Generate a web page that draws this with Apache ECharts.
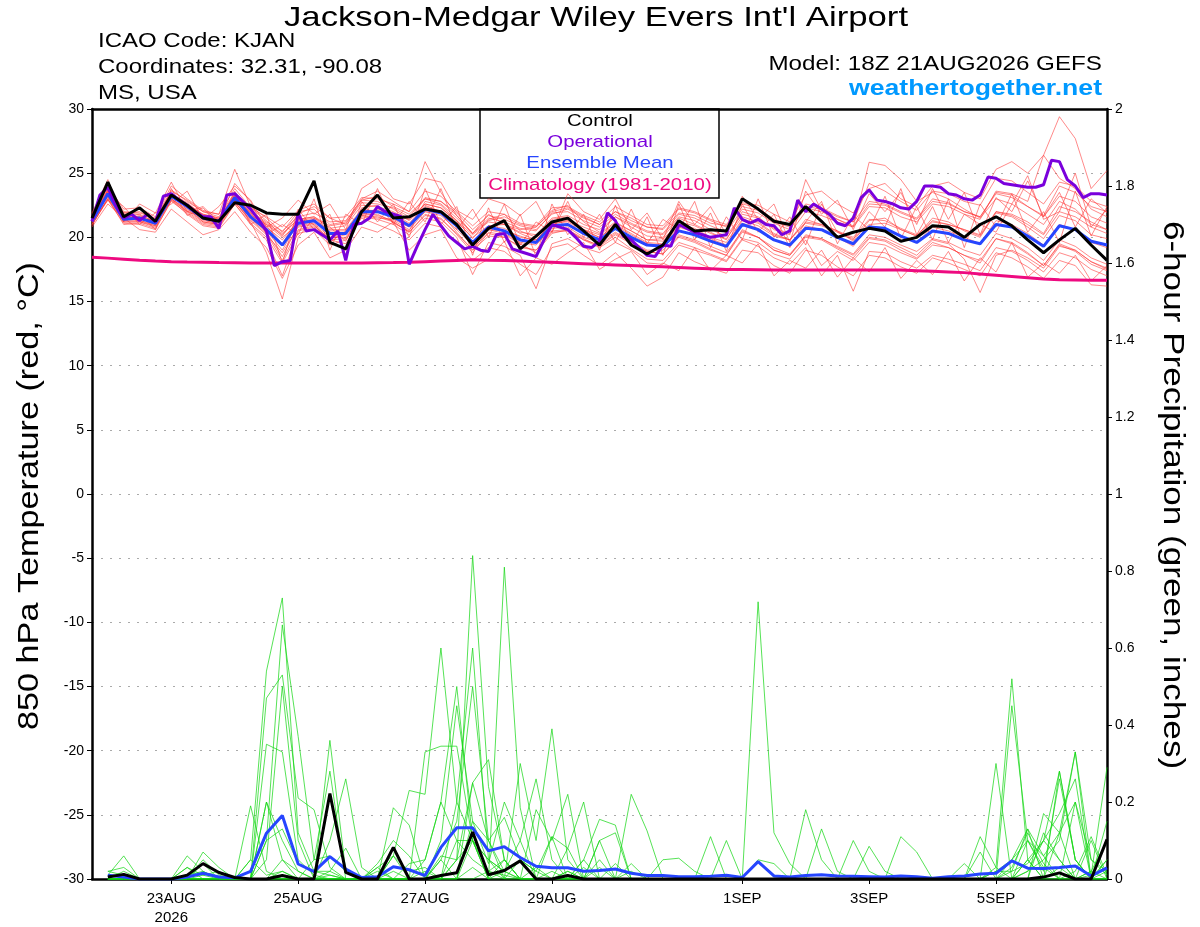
<!DOCTYPE html>
<html>
<head>
  <meta charset="UTF-8">
  <title>KJAN GEFS meteogram</title>
  <script src="https://cdn.jsdelivr.net/npm/echarts@6/dist/echarts.min.js"></script>
  <style>
    html, body { margin: 0; padding: 0; background: #fff; }
    #main { width: 1200px; height: 927px; }
  </style>
</head>
<body>
  <div id="main"></div>
  <script>
    // tick labels on the time axis (forecast hour from 18Z 21AUG2026)
    var tickHours = [30, 78, 126, 174, 246, 294, 342];
    var tickLabels = ['23AUG\n2026', '25AUG', '27AUG', '29AUG', '1SEP', '3SEP', '5SEP'];

    // 850 hPa temperature, 6-hourly (65 values, hour 0..384)
    var tempControl = [
      21.5, 24.3, 21.6, 22.3, 21.25, 23.3, 22.5, 21.5, 21.25, 22.7, 22.5, 21.9, 21.8,
      21.8, 24.4, 19.6, 19.1, 22.0, 23.3, 21.5, 21.6, 22.2, 22.0, 21.0, 19.4, 20.7,
      21.3, 19.1, 20.1, 21.2, 21.5, 20.5, 19.4, 21.0, 19.4, 18.7, 19.4, 21.3, 20.5,
      20.6, 20.5, 23.0, 22.2, 21.25, 21.0, 22.4, 21.25, 20.0, 20.4, 20.7, 20.5, 19.7,
      20.0, 20.9, 20.8, 20.0, 21.0, 21.6, 20.9, 19.8, 18.8, 19.8, 20.7, 19.4, 18.2
    ];
    var tempMean = [
      21.25, 23.4, 21.4, 21.5, 21.1, 23.2, 22.4, 21.5, 21.25, 23.1, 21.6, 20.6, 19.4,
      21.1, 21.3, 20.3, 20.3, 22.0, 22.0, 21.6, 20.9, 22.2, 21.9, 20.9, 19.6, 20.8,
      20.5, 19.8, 19.6, 20.9, 21.0, 20.3, 19.8, 20.7, 20.0, 19.4, 19.3, 20.5, 20.2,
      19.7, 19.3, 21.0, 20.6, 19.8, 19.4, 20.7, 20.6, 20.0, 19.5, 20.8, 20.7, 20.1,
      19.6, 20.5, 20.3, 19.8, 19.5, 21.0, 20.8, 20.1, 19.3, 20.9, 20.6, 19.7, 19.4
    ];
    var tempClimo = [
      18.45, 18.38, 18.3, 18.22, 18.15, 18.1, 18.07, 18.05, 18.03, 18.02, 18.0, 18.0, 18.0,
      18.0, 18.0, 18.0, 18.0, 18.0, 18.02, 18.03, 18.05, 18.1, 18.15, 18.2, 18.25, 18.22,
      18.2, 18.15, 18.1, 18.05, 18.0, 17.95, 17.9, 17.85, 17.8, 17.75, 17.7, 17.65, 17.6,
      17.55, 17.5, 17.5, 17.48, 17.45, 17.45, 17.45, 17.45, 17.45, 17.45, 17.45, 17.45, 17.45,
      17.4, 17.35, 17.3, 17.25, 17.15, 17.05, 16.95, 16.85, 16.75, 16.7, 16.68, 16.66, 16.65
    ];
    // operational run is 3-hourly (129 values, hour 0..384)
    var tempOper = [
      21.25, 23.3, 23.9, 22.5, 21.5, 21.8, 21.3, 21.8, 21.2, 23.2, 23.4, 22.9, 22.5, 22.0, 21.6, 21.6,
      20.7, 23.3, 23.4, 22.8, 22.2, 21.4, 20.5, 17.8, 18.1, 18.2, 21.9, 20.5, 20.6, 20.2, 19.8, 20.5,
      18.2, 21.0, 21.1, 21.5, 22.4, 22.0, 21.8, 21.6, 17.9, 19.3, 20.6, 21.8, 20.9, 20.1, 19.6, 19.1,
      19.3, 19.0, 18.9, 20.2, 20.3, 19.1, 18.9, 18.7, 18.5, 19.8, 21.0, 20.8, 20.6, 20.0, 19.3, 19.2,
      19.7, 21.9, 21.3, 20.1, 19.8, 19.2, 18.6, 18.5, 19.4, 19.3, 21.0, 20.7, 20.4, 20.2, 20.0, 20.1,
      20.2, 22.3, 21.4, 21.1, 21.4, 21.0, 20.9, 20.2, 20.5, 22.9, 22.0, 22.6, 22.2, 21.8, 21.1, 20.9,
      21.5, 23.1, 23.7, 22.9, 22.8, 22.6, 22.3, 22.2, 22.8, 24.0, 24.0, 23.9, 23.4, 23.3, 23.0, 22.9,
      23.3, 24.7, 24.6, 24.2, 24.1, 24.0, 23.9, 23.9, 24.1, 26.0, 25.9, 24.5, 24.0, 23.1, 23.4, 23.4,
      23.3
    ];

    // temperature ensemble members (6-hourly)
    var tempMembers = [
      [21.5,23.8,21.9,22.0,21.4,23.6,22.9,22.0,21.6,23.5,22.3,21.3,20.1,
       21.8,22.4,21.5,21.0,22.9,23.2,22.4,21.8,23.0,22.8,21.9,20.6,21.7,
       21.4,20.9,20.6,21.8,22.2,21.5,21.0,22.0,21.3,20.8,20.6,21.9,21.7,
       21.1,20.9,22.7,22.5,21.8,21.2,23.3,23.6,22.6,21.9,23.8,24.2,23.0,
       22.4,24.0,24.3,23.5,23.0,25.3,25.9,25.0,26.4,29.4,27.7,23.8,25.2],
      [21.0,23.0,21.0,21.1,20.7,22.8,21.9,21.0,20.8,22.6,21.0,19.8,17.0,
       20.5,20.8,19.8,19.5,21.6,21.4,21.0,20.2,21.5,21.2,20.0,17.1,19.6,
       19.3,18.6,16.0,19.5,19.9,19.2,18.8,19.6,19.0,18.0,17.9,19.4,19.0,
       18.6,18.1,19.8,19.3,18.4,17.9,19.2,17.0,18.6,15.8,18.9,18.8,18.1,
       17.6,18.6,18.3,17.9,17.4,19.2,18.9,18.2,17.3,18.8,18.4,17.5,17.0],
      [21.6,23.2,21.2,21.2,20.9,23.4,22.3,21.2,21.0,22.8,21.2,18.8,15.2,
       20.0,21.5,20.8,19.7,22.3,22.5,21.1,20.5,22.8,22.5,21.3,19.9,21.4,
       21.8,20.5,20.0,21.4,21.6,20.6,20.2,21.1,20.5,19.8,19.7,21.2,20.9,
       20.3,19.9,21.6,21.2,20.3,19.8,21.4,21.0,20.5,19.7,21.3,21.5,20.6,
       20.1,21.5,21.2,20.5,20.0,22.0,21.7,21.0,20.2,22.0,21.6,20.8,20.3],
      [21.8,24.0,22.2,22.3,21.6,24.0,23.0,22.1,21.8,25.3,22.4,21.5,20.4,
       22.0,22.2,21.0,21.2,23.0,23.6,22.8,22.0,25.9,23.5,21.7,20.3,21.8,
       21.0,20.6,20.8,22.1,22.5,21.2,20.4,21.6,20.8,20.1,20.0,21.5,21.0,
       20.4,19.8,22.0,21.6,20.6,20.2,24.5,22.1,21.4,20.8,25.85,25.6,24.5,
       22.8,23.5,23.0,22.2,21.5,23.0,22.6,21.8,21.0,22.8,22.2,21.0,20.6],
      [21.2,23.5,21.6,21.3,21.0,23.0,22.0,21.6,21.4,23.3,21.8,20.9,19.5,
       21.5,21.0,19.6,20.5,21.8,22.2,21.9,21.1,22.5,22.0,21.0,19.2,20.3,
       20.0,19.2,19.0,20.5,20.6,19.9,19.3,20.2,19.5,18.9,18.7,20.0,19.6,
       19.0,18.6,20.6,20.0,19.0,18.6,20.0,19.8,19.1,18.4,19.9,19.7,19.0,
       18.4,19.6,19.2,18.6,18.0,19.9,19.6,18.8,17.8,19.5,19.0,18.1,17.6],
      [20.9,23.1,21.3,21.6,21.2,23.1,22.5,21.4,21.0,22.9,21.5,20.4,18.5,
       20.9,21.1,20.0,20.0,21.9,21.7,21.3,20.6,22.0,21.9,20.4,19.0,20.6,
       20.5,20.1,19.7,21.2,21.3,20.6,20.0,21.0,20.3,19.6,19.5,20.9,20.6,
       19.9,19.4,21.3,20.9,20.1,19.8,21.1,20.9,20.4,19.9,21.0,21.1,20.6,
       20.1,21.2,21.0,20.6,20.1,21.9,21.6,20.8,19.9,21.7,21.3,20.2,19.9],
      [21.4,23.7,21.8,21.5,21.3,23.4,22.6,21.7,21.4,23.2,21.9,21.0,20.2,
       21.4,21.6,20.7,20.9,22.5,22.4,22.0,21.3,22.6,22.3,21.3,20.2,21.2,
       21.0,20.4,20.2,21.5,21.7,21.0,20.6,21.6,21.0,20.4,20.2,21.6,21.3,
       20.6,20.1,21.8,21.5,20.7,20.3,22.0,21.7,21.2,20.8,22.4,22.3,21.6,
       21.2,22.6,22.4,21.8,21.4,23.6,23.4,22.8,26.4,24.6,23.8,22.2,21.6],
      [21.3,23.3,21.4,21.7,21.0,23.0,22.2,21.3,21.1,22.9,21.5,20.5,19.0,
       21.2,21.4,20.2,20.3,21.7,21.5,21.4,20.8,22.0,21.7,20.6,19.4,20.6,
       20.3,19.6,19.4,20.7,20.8,20.0,19.6,20.4,19.7,19.0,19.0,20.2,19.8,
       19.3,18.8,20.5,20.0,19.0,18.6,20.2,19.9,19.2,18.6,20.0,19.8,19.2,
       18.6,19.8,19.5,18.3,15.7,18.6,19.0,18.4,17.6,19.3,19.0,18.1,17.5],
      [21.1,23.6,21.5,21.4,21.3,23.3,22.4,21.8,21.5,23.0,21.7,21.0,20.0,
       21.0,21.2,20.6,20.6,22.2,22.0,21.8,21.4,22.6,22.3,21.2,20.0,20.9,
       21.0,20.3,19.8,21.0,21.3,20.8,20.3,21.2,20.5,19.8,19.9,21.0,20.7,
       20.0,19.6,21.4,21.1,20.2,19.8,21.2,21.0,20.5,20.0,21.4,21.3,20.7,
       20.2,21.3,21.0,20.6,20.2,22.0,21.8,21.2,20.3,22.4,22.0,21.2,20.6],
      [21.0,22.9,21.1,21.0,20.6,22.9,21.8,20.9,20.7,22.6,21.1,20.0,18.0,
       20.3,20.6,19.4,19.8,21.5,21.0,20.5,19.8,21.1,20.8,19.6,18.2,19.2,
       18.9,17.9,17.1,19.2,19.5,18.6,17.8,18.8,17.6,16.2,16.9,18.8,18.1,
       17.6,17.2,19.0,18.8,17.8,17.2,19.0,18.6,17.7,17.0,18.6,18.4,17.7,
       17.2,18.4,18.0,17.5,17.0,18.8,18.4,17.7,16.8,18.2,17.8,16.3,16.2],
      [21.6,23.9,22.0,21.9,21.5,23.7,22.8,22.0,21.8,23.8,22.3,21.6,20.8,
       22.1,22.6,21.5,21.6,23.1,23.0,22.6,22.0,23.6,23.2,22.0,20.9,22.0,
       21.8,21.1,20.9,22.3,22.4,21.7,21.2,22.4,21.7,21.0,20.9,22.3,22.0,
       21.4,21.0,22.6,22.3,21.4,20.9,22.6,22.3,21.7,21.2,22.8,22.6,22.0,
       21.5,23.0,22.7,22.0,21.6,23.5,23.3,22.4,21.7,24.0,23.5,22.4,22.0],
      [21.2,23.2,21.3,21.3,20.9,23.0,22.1,21.2,21.0,22.8,21.3,20.2,18.8,
       20.8,21.0,19.8,19.9,21.7,21.6,21.2,20.4,21.8,21.4,20.3,19.0,20.1,
       20.0,19.3,19.0,20.4,20.5,19.8,19.4,20.3,19.6,18.9,18.7,20.1,19.7,
       19.1,18.6,20.4,20.0,19.2,18.7,20.1,19.9,19.3,18.7,20.2,20.0,19.4,
       18.9,19.9,19.6,19.0,18.6,20.3,19.9,19.2,18.2,19.8,19.3,18.4,17.9],
      [21.3,23.5,21.6,21.8,21.2,23.3,22.5,21.6,21.3,23.2,21.8,20.8,19.8,
       21.3,21.5,20.5,20.5,22.1,22.1,21.8,21.0,22.4,22.0,20.9,19.6,20.9,
       20.7,20.0,19.8,21.1,21.2,20.5,20.0,20.9,20.2,19.5,19.4,20.8,20.4,
       19.8,19.3,21.1,20.7,19.8,19.3,20.9,20.6,20.0,19.3,20.9,20.7,20.1,
       19.6,20.8,20.5,20.0,19.5,21.3,21.0,20.3,19.4,21.0,20.6,19.6,19.2],
      [21.4,23.6,21.7,21.6,21.1,23.4,22.7,21.7,21.4,23.4,22.0,21.2,20.5,
       21.6,21.9,21.2,21.3,22.9,22.8,22.2,21.4,23.0,22.6,21.5,20.3,21.5,
       21.2,20.7,20.5,21.9,22.0,21.3,20.8,21.8,21.1,20.5,20.3,21.8,21.5,
       20.9,20.4,22.2,21.9,21.1,20.6,22.3,22.0,21.4,20.9,22.6,22.5,21.9,
       21.4,22.8,22.6,22.0,21.6,23.4,23.1,22.4,21.6,23.2,22.8,21.6,21.1],
      [21.0,23.0,21.2,21.2,20.8,22.9,22.0,21.1,20.9,22.7,21.4,20.3,18.2,
       20.6,20.9,19.9,20.2,21.8,21.8,21.2,20.4,21.7,21.5,20.2,18.8,20.4,
       20.2,19.5,18.8,20.3,20.6,19.8,19.2,20.0,19.1,18.3,18.2,19.6,19.2,
       18.7,18.2,19.9,19.6,18.7,18.3,19.8,17.8,18.9,18.2,19.6,19.4,18.8,
       18.3,19.4,19.2,18.6,18.2,19.9,19.5,18.7,17.8,19.4,18.9,17.9,17.4],
      [21.5,23.7,21.6,21.5,21.3,23.4,22.6,21.8,21.5,23.3,21.9,21.1,20.3,
       21.4,21.6,20.9,21.1,22.7,22.6,22.3,21.6,23.1,22.8,21.7,20.3,21.3,
       21.6,21.0,20.8,22.0,22.3,21.6,21.0,22.0,21.5,20.8,20.7,22.2,21.9,
       21.3,20.8,22.4,22.1,21.2,20.8,22.4,22.2,21.6,21.2,24.2,23.6,22.8,
       22.1,23.6,23.4,22.8,22.5,24.6,24.4,23.5,22.6,24.3,24.0,22.8,22.4],
      [21.7,23.4,22.4,21.0,21.9,22.6,23.6,21.4,22.4,24.0,22.9,20.8,21.5,
       22.9,21.8,22.6,20.6,23.8,24.6,23.0,22.6,24.6,24.3,22.1,21.4,23.0,
       22.6,21.7,22.8,20.4,23.4,22.0,21.4,23.0,20.6,21.9,19.8,22.8,21.0,
       22.4,20.2,23.2,21.4,22.6,19.6,23.6,21.8,22.9,20.6,23.4,22.0,23.5,
       21.0,23.8,21.4,23.5,20.2,23.1,22.0,24.4,21.6,23.5,20.8,23.0,21.9],
      [20.8,22.6,21.5,20.6,20.4,22.2,21.2,20.2,20.6,22.0,20.4,19.2,16.8,
       19.4,20.4,18.4,19.0,20.8,20.4,21.2,19.0,20.2,20.6,18.4,17.6,18.3,
       19.7,17.0,18.4,17.9,18.8,19.6,17.5,18.3,18.9,17.1,18.0,17.4,19.2,
       17.4,18.6,18.0,19.5,17.0,18.2,17.6,19.0,16.9,18.4,17.3,19.2,16.8,
       18.2,17.1,18.9,16.6,18.4,17.3,19.6,16.9,18.0,17.2,18.6,16.6,17.8],
      [21.3,22.9,21.9,21.8,20.6,23.8,21.7,22.3,20.9,23.6,21.0,21.8,18.0,
       22.2,20.6,21.8,18.6,22.8,21.2,22.6,20.0,23.8,21.0,22.4,18.6,22.3,
       19.6,21.8,18.5,22.6,20.2,21.8,19.0,22.5,19.4,21.6,18.6,22.6,19.8,
       21.9,18.9,22.6,20.4,21.8,19.2,21.2,22.8,19.5,21.7,20.6,23.2,19.9,
       22.4,19.8,23.0,19.2,22.6,20.8,23.4,20.4,22.0,19.6,23.6,20.1,22.4],
      [21.9,24.5,21.2,22.6,21.9,24.3,22.0,22.4,21.2,24.2,22.8,20.2,21.0,
       20.2,23.0,19.0,21.8,21.0,23.8,21.0,22.8,21.2,23.8,20.6,22.2,20.0,
       22.6,19.4,21.2,20.4,22.8,20.0,21.8,19.6,22.2,19.5,21.4,20.6,22.8,
       19.2,21.6,19.8,23.0,20.0,21.6,19.4,22.6,20.4,19.8,22.0,20.8,23.8,
       20.2,22.4,19.6,21.8,21.0,20.4,22.6,24.8,21.4,22.0,25.0,20.8,22.2]
    ];

    // 6-hour precipitation (inches), 6-hourly, none at hour 0
    var precipControl = [
      null, 0.005, 0.012, 0, 0, 0, 0.01, 0.04, 0.017, 0.004, 0, 0, 0.009,
      0, 0, 0.222, 0.017, 0, 0, 0.082, 0, 0, 0.009, 0.016, 0.122, 0.011,
      0.022, 0.047, 0, 0, 0.009, 0, 0, 0, 0, 0, 0, 0, 0,
      0, 0, 0, 0, 0, 0, 0, 0, 0, 0, 0, 0, 0,
      0, 0, 0, 0, 0, 0, 0, 0, 0.005, 0.016, 0, 0, 0.103
    ];
    var precipMean = [
      null, 0.01, 0.005, 0, 0, 0, 0.005, 0.015, 0.005, 0.003, 0.02, 0.119, 0.165,
      0.039, 0.019, 0.058, 0.026, 0.004, 0.006, 0.032, 0.024, 0.009, 0.082, 0.133, 0.133, 0.073,
      0.084, 0.056, 0.033, 0.029, 0.029, 0.02, 0.022, 0.026, 0.015, 0.009, 0.009, 0.006, 0.006,
      0.007, 0.01, 0.004, 0.045, 0.008, 0.005, 0.009, 0.011, 0.008, 0.007, 0.006, 0.005, 0.008,
      0.006, 0.002, 0.006, 0.008, 0.013, 0.015, 0.047, 0.028, 0.027, 0.03, 0.034, 0.008, 0.029
    ];
    var precipMembers = [
      [null,0.01,0.06,0,0,0,0.01,0.02,0,0,0.05,0.54,0.73,
       0.12,0.02,0.01,0,0,0,0.02,0,0.05,0.2,0.1,0.05,0.02,
       0.01,0,0.03,0,0.02,0,0,0,0,0,0,0,0,
       0,0,0,0,0,0,0.18,0.05,0,0,0,0,0,
       0,0,0,0,0,0.02,0.05,0.1,0.06,0.12,0.2,0.05,0.02],
      [null,0.02,0.03,0,0,0,0,0.05,0.01,0,0,0.1,0.66,
       0.37,0.05,0.06,0.02,0,0,0,0,0,0.1,0.45,0.15,0.1,
       0.16,0.05,0.02,0,0,0.05,0,0,0.04,0,0,0,0,
       0,0,0,0.05,0.04,0,0,0.13,0.02,0,0,0,0,
       0,0,0,0,0,0,0.03,0.12,0.04,0,0.02,0.11,0.01],
      [null,0,0.02,0,0,0,0,0.01,0,0,0,0.47,0.53,
       0.21,0.18,0.03,0,0,0,0,0,0,0.05,0.15,0.5,0.1,
       0.02,0.1,0,0,0.08,0,0.1,0.12,0,0,0,0,0,
       0,0,0,0,0,0,0,0,0,0.1,0.02,0,0,
       0,0,0,0,0,0,0.02,0.04,0.1,0.05,0,0.01,0.29],
      [null,0.02,0.01,0,0,0,0.03,0.01,0.02,0,0,0.35,0.33,
       0.05,0.01,0,0,0,0,0.06,0,0,0,0.2,0.6,0.05,
       0,0.05,0.02,0.11,0,0,0,0,0.02,0,0,0,0,
       0,0,0,0,0,0,0,0,0,0,0.085,0.02,0,
       0,0,0,0,0,0,0,0.05,0,0.03,0,0.02,0.1],
      [null,0,0,0,0,0,0.06,0.02,0,0,0,0.1,0.13,
       0.04,0.02,0.02,0,0,0.02,0,0,0,0,0,0.25,0.31,
       0.05,0,0,0,0,0,0,0.04,0,0,0,0,0,
       0,0,0,0,0,0,0,0,0,0,0,0,0.11,
       0.07,0,0,0,0,0,0,0.02,0.1,0.17,0.26,0,0],
      [null,0,0,0,0,0,0.03,0,0,0,0,0.05,0.5,
       0.1,0,0.01,0,0,0,0,0,0,0,0.1,0.1,0,
       0.81,0.185,0,0.02,0,0,0,0,0,0,0,0,0,
       0,0,0,0,0,0,0,0,0,0,0,0,0,
       0,0,0,0.04,0,0,0,0,0.12,0.05,0,0,0],
      [null,0,0,0,0,0,0,0.07,0.03,0,0,0.2,0.1,
       0.02,0,0.02,0.08,0,0,0,0,0,0.05,0,0.15,0.04,
       0.2,0.1,0.26,0.05,0,0,0.05,0,0,0,0,0,0,
       0,0,0,0,0,0,0,0,0,0,0,0,0,
       0,0,0,0,0.11,0.03,0,0,0,0,0,0,0.05],
      [null,0,0,0,0,0,0,0.04,0,0,0,0,0.05,
       0.02,0,0.36,0.02,0,0,0,0,0.02,0,0,0.1,0,
       0,0.3,0.1,0.39,0.05,0,0,0,0,0,0,0,0,
       0,0,0,0,0,0,0,0,0,0,0,0,0,
       0,0,0,0,0.07,0,0.05,0.13,0,0.28,0.05,0,0],
      [null,0,0,0,0,0,0,0,0,0,0.19,0.02,0,
       0,0.05,0.28,0,0,0.03,0.06,0.02,0.03,0,0,0.03,0,
       0.05,0,0.18,0.1,0.22,0,0.03,0,0,0,0,0,0,
       0,0,0,0,0,0,0,0,0,0,0,0,0,
       0,0,0,0,0,0.3,0,0.1,0.02,0.26,0.05,0,0.05],
      [null,0,0,0,0,0,0,0,0,0,0.05,0.01,0.02,
       0,0,0.1,0.26,0.03,0,0,0,0,0,0.05,0.25,0.1,
       0,0,0,0.11,0.08,0.2,0,0,0,0,0,0,0,
       0,0,0,0,0,0,0,0,0,0,0,0,0,
       0,0,0,0,0,0.03,0.52,0.05,0,0,0.2,0,0.02],
      [null,0,0,0,0,0,0,0,0,0,0,0.2,0.05,
       0,0,0,0,0,0,0.185,0.14,0,0,0,0,0.02,
       0.05,0,0,0,0,0.05,0.155,0.14,0,0,0,0,0,
       0,0,0,0,0,0,0,0,0,0,0,0,0,
       0,0,0,0,0,0,0.45,0.1,0.03,0,0,0.02,0],
      [null,0,0,0,0,0,0,0,0,0,0,0,0.02,
       0,0,0,0,0,0.04,0.1,0.06,0,0.06,0.05,0.1,0.02,
       0,0,0,0,0.02,0,0.1,0,0.22,0.125,0,0,0,
       0,0,0,0,0,0,0,0,0,0,0,0,0,
       0,0,0,0,0,0.02,0.02,0.13,0.06,0,0,0,0],
      [null,0,0,0,0,0,0,0,0,0,0,0,0,
       0,0,0,0,0,0,0.06,0.23,0.22,0.6,0.2,0.1,0,
       0.02,0,0,0,0,0,0,0,0,0,0.05,0.054,0.02,
       0,0,0,0,0,0,0,0,0,0,0,0,0,
       0,0,0,0,0,0,0,0,0.17,0.12,0.33,0,0],
      [null,0,0,0,0,0,0,0,0,0,0,0,0,
       0,0,0,0,0,0.03,0,0,0.33,0.345,0.345,0.1,0.05,
       0.02,0,0,0,0.01,0,0,0,0,0,0,0,0,
       0.11,0,0,0,0,0,0,0,0,0,0,0,0,
       0,0,0,0,0,0,0,0,0,0.12,0,0.1,0],
      [null,0,0,0,0,0,0,0,0,0,0,0,0,
       0,0,0,0,0,0,0,0.04,0.05,0.2,0.5,0.1,0.05,
       0.02,0.05,0,0,0,0.03,0,0,0,0,0,0,0,
       0,0.1,0,0,0,0,0,0,0,0,0,0,0,
       0,0,0,0,0,0,0,0.05,0.1,0.28,0.05,0,0.15],
      [null,0,0,0,0,0,0,0,0,0,0,0,0,
       0,0,0,0,0,0,0,0,0,0,0.05,0.84,0.24,
       0.05,0,0,0,0,0,0,0,0,0,0,0,0,
       0,0,0,0.72,0.12,0.04,0,0,0,0,0,0,0,
       0,0,0,0,0,0,0,0.02,0.05,0.1,0.33,0.05,0.01]
    ];

    var FONT = '"Liberation Sans", Arial, Helvetica, sans-serif';

    function toPairs(arr, step) {
      return arr.map(function (v, i) { return [i * step, v]; });
    }

    function thinLine(name, arr, color, axis) {
      return {
        name: name, type: 'line', yAxisIndex: axis,
        data: toPairs(arr, 6), showSymbol: false, silent: true,
        lineStyle: { color: color, width: 0.8 }, z: 2
      };
    }

    function thickLine(name, arr, step, color, axis, z) {
      return {
        name: name, type: 'line', yAxisIndex: axis,
        data: toPairs(arr, step), showSymbol: false, silent: true,
        lineStyle: { color: color, width: 3 }, z: z
      };
    }

    // stretched text, the original lettering is wider than Liberation Sans
    function label(txt, x, y, size, sx, align, color, extra) {
      return {
        type: 'text', x: x, y: y, scaleX: sx, z: 50, rotation: extra || 0,
        style: { text: txt, font: size, fill: color, align: align, verticalAlign: 'middle' }
      };
    }

    var series = [];
    tempMembers.forEach(function (m, k) {
      series.push(thinLine('t' + k, m, 'rgba(255,50,50,0.72)', 0));
    });
    precipMembers.forEach(function (m, k) {
      series.push(thinLine('p' + k, m, 'rgba(20,215,20,0.9)', 1));
    });
    series.push(thickLine('Climatology', tempClimo, 6, '#ee0a80', 0, 5));
    series.push(thickLine('Ensemble Mean', tempMean, 6, '#2645ff', 0, 6));
    series.push(thickLine('Operational', tempOper, 3, '#7a00dc', 0, 7));
    series.push(thickLine('Control', tempControl, 6, '#000000', 0, 8));
    series.push(thickLine('Mean precip', precipMean, 6, '#2645ff', 1, 6));
    series.push(thickLine('Control precip', precipControl, 6, '#000000', 1, 8));

    var myChart = echarts.init(document.getElementById('main'));
    var option = {
      animation: false,
      backgroundColor: '#fff',
      textStyle: { fontFamily: FONT },
      grid: { left: 92, right: 93, top: 109, bottom: 44 },
      xAxis: [{
        type: 'value', min: 0, max: 384,
        axisLine: { show: true, onZero: false, lineStyle: { color: '#000', width: 2.5 } },
        axisTick: { show: true, customValues: tickHours, length: 5, lineStyle: { color: '#000' } },
        axisLabel: {
          customValues: tickHours, color: '#000', fontSize: 15, fontFamily: FONT,
          lineHeight: 19, margin: 10,
          formatter: function (v) {
            var k = tickHours.indexOf(v);
            return k >= 0 ? tickLabels[k] : '';
          }
        },
        splitLine: { show: false }
      }, {
        type: 'value', min: 0, max: 384, position: 'top',
        axisLine: { show: true, onZero: false, lineStyle: { color: '#000', width: 2.5 } },
        axisTick: { show: false }, axisLabel: { show: false }, splitLine: { show: false }
      }],
      yAxis: [{
        type: 'value', min: -30, max: 30, interval: 5, position: 'left',
        axisLine: { show: true, onZero: false, lineStyle: { color: '#000', width: 2.5 } },
        axisTick: { show: true, length: 5, lineStyle: { color: '#000' } },
        axisLabel: { color: '#000', fontSize: 14, margin: 8, fontFamily: FONT },
        splitLine: { show: true, lineStyle: { color: '#aaaaaa', width: 1, type: [2, 7] } }
      }, {
        type: 'value', min: 0, max: 2, interval: 0.2, position: 'right',
        axisLine: { show: true, onZero: false, lineStyle: { color: '#000', width: 2.5 } },
        axisTick: { show: true, length: 5, lineStyle: { color: '#000' } },
        axisLabel: {
          color: '#000', fontSize: 14, margin: 8, fontFamily: FONT,
          formatter: function (v) { return String(Math.round(v * 10) / 10); }
        },
        splitLine: { show: false }
      }],
      graphic: [
        label("Jackson-Medgar Wiley Evers Int'l Airport", 596, 18, '28px ' + FONT, 1.24, 'center', '#000'),
        label('ICAO Code: KJAN', 98, 41, '20px ' + FONT, 1.2, 'left', '#000'),
        label('Coordinates: 32.31, -90.08', 98, 67, '20px ' + FONT, 1.2, 'left', '#000'),
        label('MS, USA', 98, 93, '20px ' + FONT, 1.2, 'left', '#000'),
        label('Model: 18Z 21AUG2026 GEFS', 1102, 64, '20px ' + FONT, 1.21, 'right', '#000'),
        label('weathertogether.net', 1102, 89, 'bold 22px ' + FONT, 1.21, 'right', '#0099ff'),
        label('850 hPa Temperature (red, °C)', 30, 496, '30px ' + FONT, 1.14, 'center', '#000', Math.PI / 2),
        label('6-hour Precipitation (green, inches)', 1172, 495, '30px ' + FONT, 1.17, 'center', '#000', -Math.PI / 2),
        {
          type: 'group', x: 480, y: 109, z: 100,
          children: [
            { type: 'rect', shape: { x: 0, y: 0, width: 239, height: 89 }, style: { fill: '#fff', stroke: '#000', lineWidth: 1.5 } },
            label('Control', 120, 12, '17px ' + FONT, 1.2, 'center', '#000'),
            label('Operational', 120, 33, '17px ' + FONT, 1.2, 'center', '#7a00dc'),
            label('Ensemble Mean', 120, 54, '17px ' + FONT, 1.2, 'center', '#2645ff'),
            label('Climatology (1981-2010)', 120, 76, '17px ' + FONT, 1.2, 'center', '#ee0a80')
          ]
        }
      ],
      series: series
    };
    myChart.setOption(option);
  </script>
</body>
</html>
